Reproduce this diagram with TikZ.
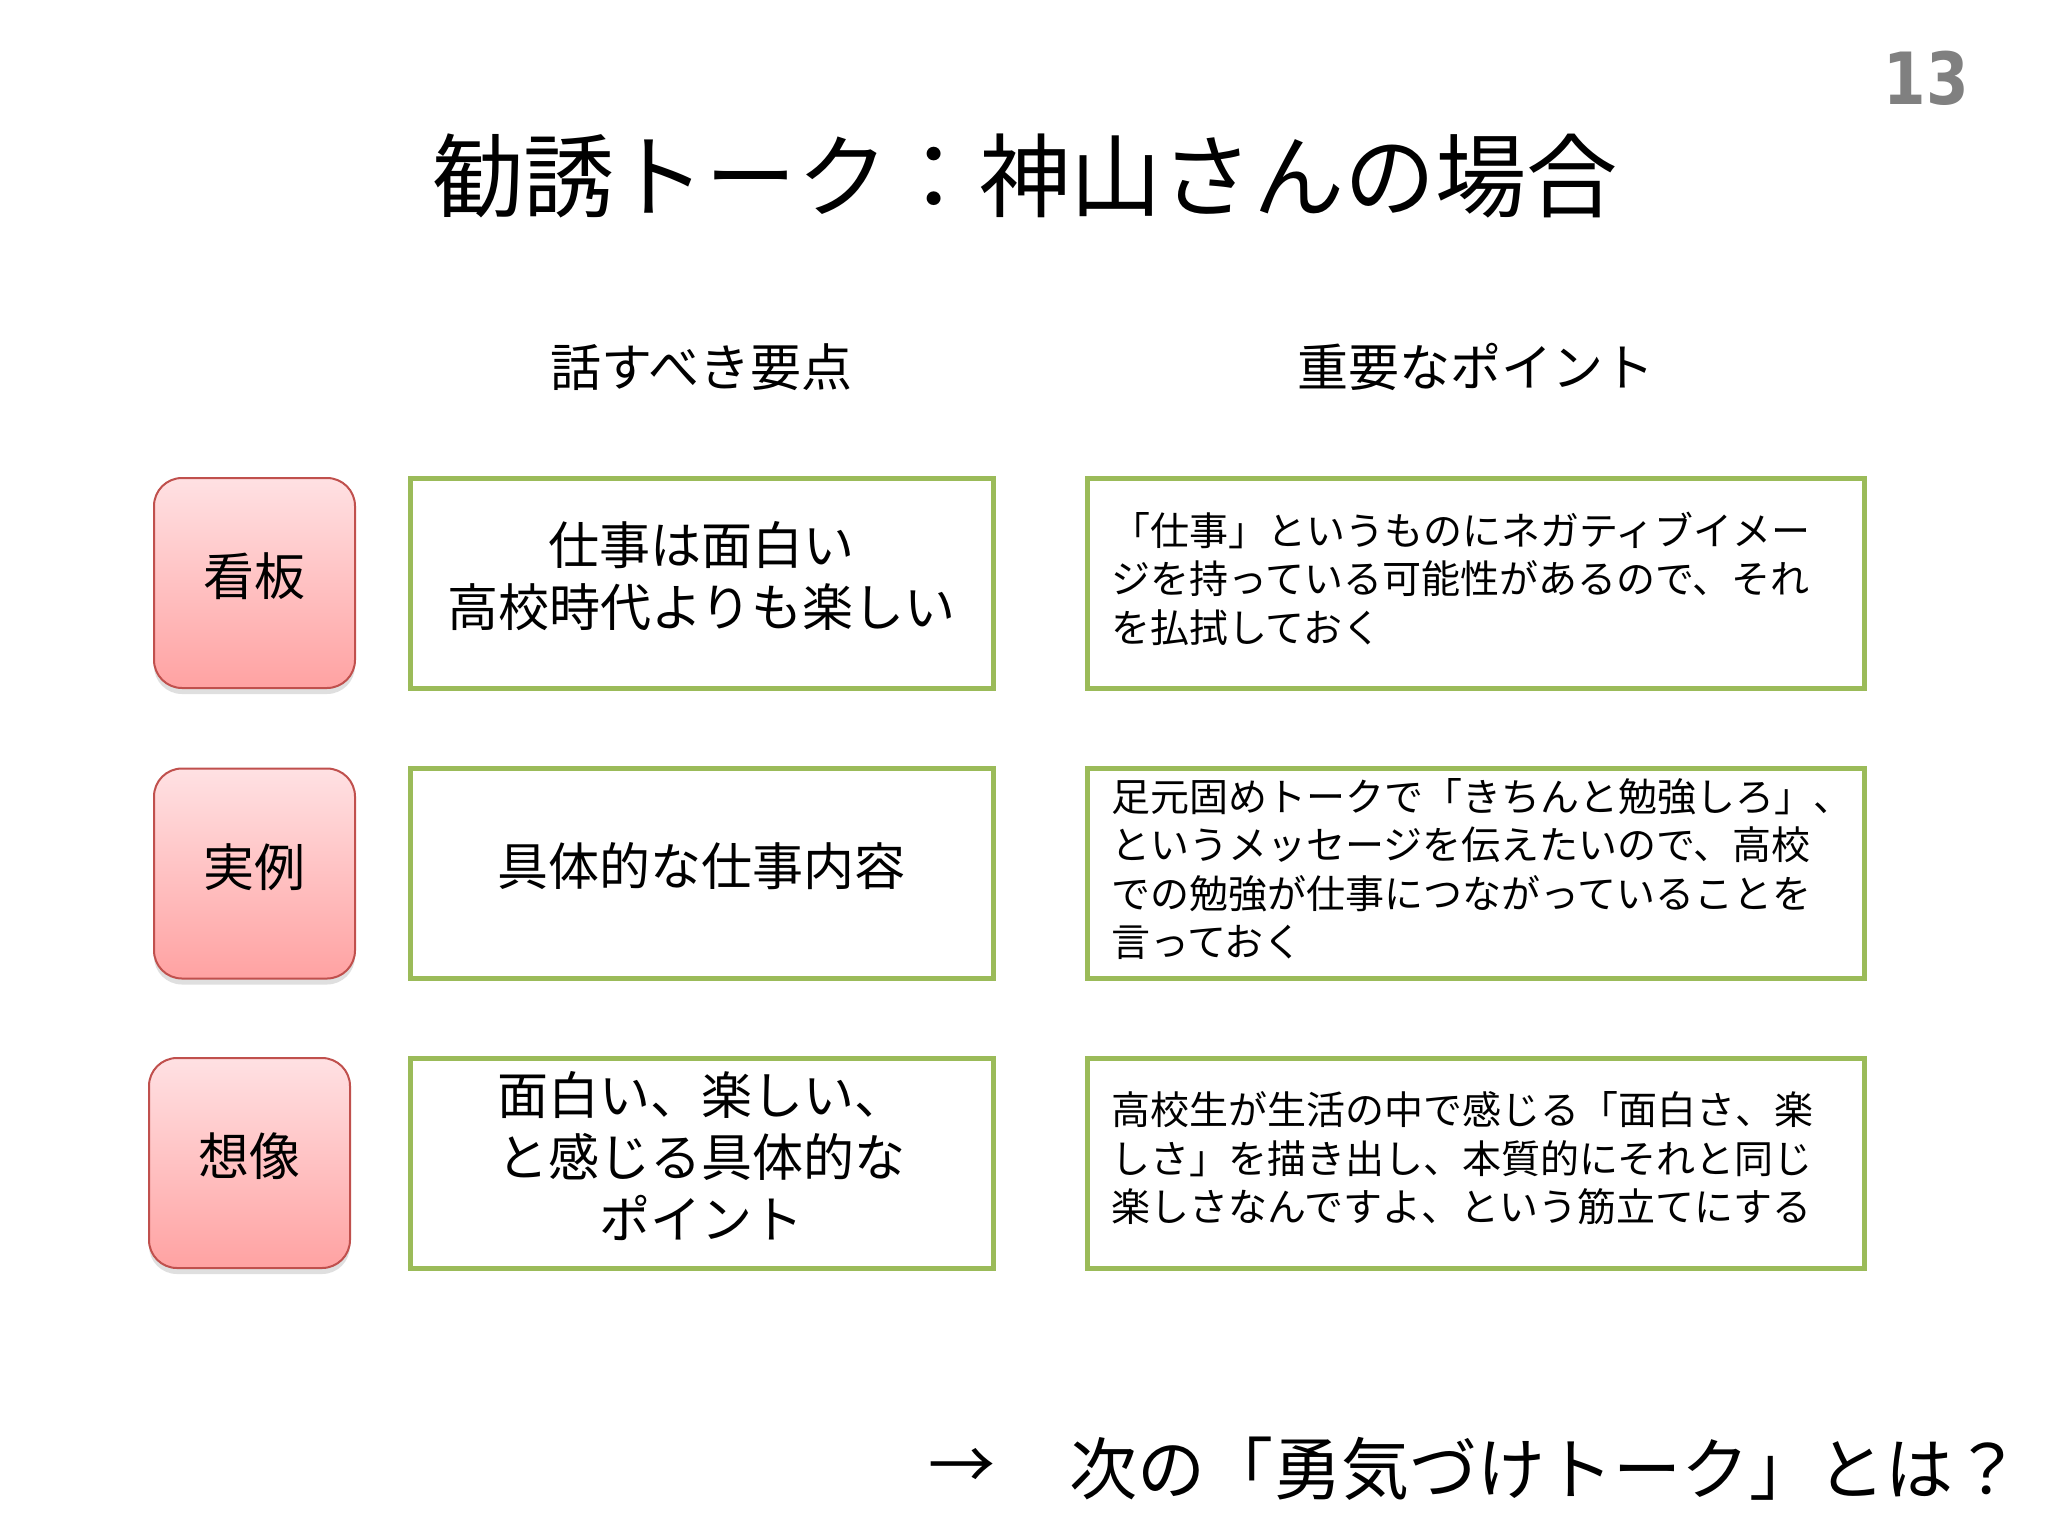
\documentclass[tikz,border=0pt]{standalone}
\usepackage{fontspec}
\setmainfont{Noto Sans CJK JP}
\newfontfamily\numfont{DejaVu Sans}
\usetikzlibrary{shadows}
\definecolor{boxred}{HTML}{C0504D}
\definecolor{pinktop}{HTML}{FFE1E3}
\definecolor{pinkbot}{HTML}{FFA2A2}
\definecolor{boxgreen}{HTML}{9BBB59}
\definecolor{pagegray}{HTML}{808080}
\newcommand\boxpad[1]{\endgraf\vskip#1\hrule height0pt depth0pt width0pt}
\begin{document}
\begin{tikzpicture}[x=0.5pt,y=-0.5pt,
  tag/.style={draw=boxred, line width=1pt, rounded corners=14pt,
    top color=pinktop, bottom color=pinkbot,
    minimum width=100.5pt, minimum height=105pt, inner sep=0pt,
    text width=90pt, align=center,
    font=\fontsize{25.5}{31}\selectfont,
    execute at end node={\boxpad{6.5pt}},
    drop shadow={shadow xshift=0pt, shadow yshift=-3pt, opacity=0.25}},
  point/.style={draw=boxgreen, line width=2.5pt, fill=white,
    minimum width=291.5pt, minimum height=105pt,
    text width=267.5pt, inner xsep=12pt, align=center,
    font=\fontsize{25.5}{31}\selectfont,
    execute at end node={\boxpad{7pt}}},
  note/.style={draw=boxgreen, line width=2.5pt, fill=white,
    minimum height=105pt, text width=364.5pt, inner xsep=12pt, align=left,
    font=\fontsize{19.5}{24.2}\selectfont,
    execute at end node={\boxpad{4.5pt}}},
  head/.style={font=\fontsize{25.5}{30}\selectfont}]
\useasboundingbox[fill=white] (0,0) rectangle (2048,1536);
\node[text=pagegray, font=\numfont\bfseries\fontsize{36}{40}\selectfont] (page) at (1926,78) {\scalebox{0.85}[1]{13}};
\node[font=\fontsize{45.6}{50}\selectfont] (title) at (1025,176) {勧誘トーク：神山さんの場合};
\node[head] (hkey) at (701.5,367) {話すべき要点};
\node[head] (hpoint) at (1475.5,367) {重要なポイント};
\node[tag] (kanban) at (254.5,583) {看板};
\node[tag] (jitsurei) at (254.5,873.5) {実例};
\node[tag] (sozo) at (249.5,1163) {想像};
\node[point] (kanbank) at (701.5,583) {仕事は面白い\\高校時代よりも楽しい};
\node[point] (jitsureik) at (701.5,873.5) {具体的な仕事内容};
\node[point] (sozok) at (701.5,1163) {面白い、楽しい、\\と感じる具体的な\\ポイント};
\node[note] (kanbann) at (1475.5,583) {「仕事」というものにネガティブイメー\\ジを持っている可能性があるので、それ\\を払拭しておく};
\node[note] (jitsurein) at (1475.5,873.5) {足元固めトークで「きちんと勉強しろ」、\\というメッセージを伝えたいので、高校\\での勉強が仕事につながっていることを\\言っておく};
\node[note] (sozon) at (1475.5,1163) {高校生が生活の中で感じる「面白さ、楽\\しさ」を描き出し、本質的にそれと同じ\\楽しさなんですよ、という筋立てにする};
\node[font=\fontsize{33.5}{40}\selectfont] (arrow) at (962,1469) {→};
\node[font=\fontsize{34}{40}\selectfont, anchor=west] (next) at (1062,1469) {次の「勇気づけトーク」とは？};
\end{tikzpicture}
\end{document}
